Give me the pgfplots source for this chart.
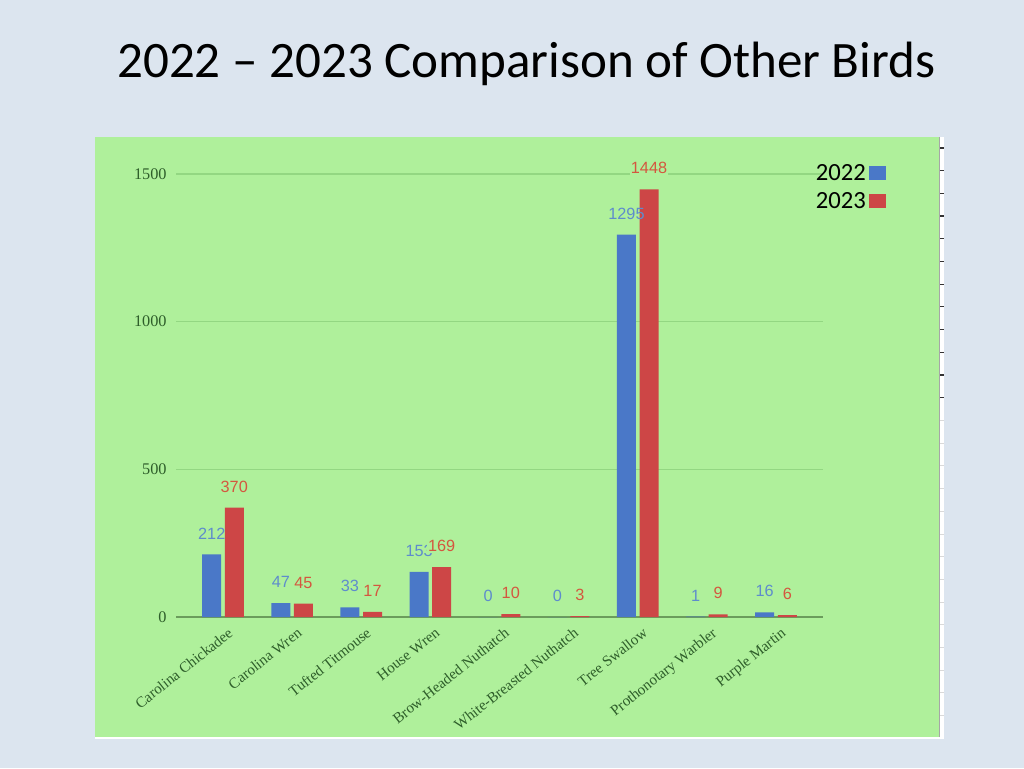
\documentclass[border=0pt]{standalone}
\usepackage{pgfplots}
\pgfplotsset{compat=1.18}
\usepackage{fontspec}
\setmainfont{Liberation Serif}
\newfontfamily\carlito{Carlito}
\newfontfamily\lsans{Liberation Sans}
\definecolor{slidebg}{HTML}{DCE5EF}
\definecolor{panelgreen}{HTML}{AFF09B}
\definecolor{gridgreen}{HTML}{93D782}
\definecolor{zeroaxis}{HTML}{6B9C5C}
\definecolor{labgreen}{HTML}{2E5E2A}
\definecolor{barblue}{HTML}{4A78C8}
\definecolor{barred}{HTML}{CD4646}
\definecolor{labblue}{HTML}{5E8CCC}
\definecolor{labred}{HTML}{D4573F}
\begin{document}
\begin{tikzpicture}
\useasboundingbox (0,0) rectangle (768pt,576pt);
\fill[slidebg] (0,0) rectangle (768pt,576pt);
% panel
\fill[white] (71.25pt,22pt) rectangle (708.3pt,473.25pt);
\fill[panelgreen] (71.25pt,23.25pt) rectangle (704.25pt,473.25pt);
\draw[gray!70,line width=0.6pt] (704.6pt,23.25pt) -- (704.6pt,473.25pt);
\foreach \k in {0,...,11}{
  \draw[black!80,line width=0.9pt] (705.2pt,{(768-148-22.7*\k)*0.75pt}) -- (708pt,{(768-148-22.7*\k)*0.75pt});
}
\foreach \k in {12,...,25}{
  \draw[black!15,line width=0.6pt] (705.2pt,{(768-148-22.7*\k)*0.75pt}) -- (708pt,{(768-148-22.7*\k)*0.75pt});
}
% title
\node[anchor=base west,inner sep=0pt,font=\carlito\fontsize{38.3}{42}\selectfont] at (87.75pt,517.5pt) {2022 – 2023 Comparison of Other Birds};
\begin{axis}[
  at={(132pt,113.25pt)}, anchor=south west,
  scale only axis, width=485.25pt, height=332.25pt,
  xmin=-0.68, xmax=8.68, ymin=0, ymax=1500,
  clip=false,
  ybar=0pt, bar width=0.275,
  separate axis lines,
  axis x line*=bottom, axis y line*=left,
  x axis line style={color=zeroaxis, line width=2.2pt, -},
  y axis line style={draw=none},
  major tick length=0pt,
  ytick={0,500,1000,1500},
  ymajorgrids, grid style={color=gridgreen, line width=1.1pt},
  xtick=data,
  xticklabels={Carolina Chickadee, Carolina Wren, Tufted Titmouse, House Wren, Brow-Headed Nuthatch, White-Breasted Nuthatch, Tree Swallow, Prothonotary Warbler, Purple Martin},
  x tick label style={rotate=38.5, anchor=north east, font=\fontsize{11.3}{12}\selectfont, text=labgreen, inner sep=1pt, yshift=-6.5pt, xshift=-1pt},
  y tick label style={font=\fontsize{12.2}{13}\selectfont, text=labgreen, xshift=-3.5pt},
  /pgf/number format/assume math mode=true,
  /pgf/number format/set thousands separator={},
  nodes near coords,
  every node near coord/.append style={anchor=center, yshift=15.75pt, font=\lsans\fontsize{12.2}{13}\selectfont},
  legend style={at={(1.097,1.029)}, anchor=north east, draw=none, fill=none, inner sep=0pt,
     font=\carlito\fontsize{18.5}{19}\selectfont, row sep=3.5pt},
  legend cell align=right,
  legend plot pos=right,
  legend image code/.code={\fill[#1] (0pt,-5.25pt) rectangle (12.75pt,5.25pt);},
]
\addplot[fill=barblue, draw=none, bar shift=-0.163, every node near coord/.append style={text=labblue}]
  coordinates {(0,212) (1,47) (2,33) (3,153) (4,0) (5,0) (6,1295) (7,1) (8,16)};
\addplot[fill=barred, draw=none, bar shift=0.163, every node near coord/.append style={text=labred, fill=panelgreen, inner sep=0.5pt}]
  coordinates {(0,370) (1,45) (2,17) (3,169) (4,10) (5,3) (6,1448) (7,9) (8,6)};
\legend{2022,2023}
\end{axis}
\end{tikzpicture}
\end{document}
